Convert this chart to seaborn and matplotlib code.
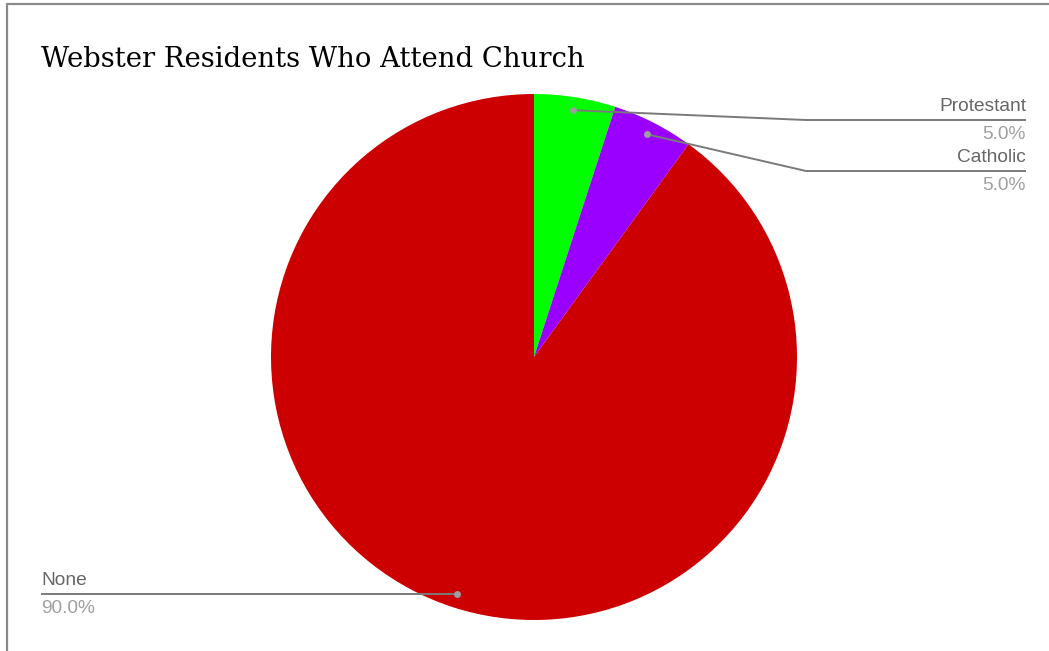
import matplotlib
matplotlib.use("Agg")
import matplotlib.pyplot as plt
import seaborn as sns
import numpy as np

# data
religions = ["Protestant", "Catholic", "None"]
shares = [5.0, 5.0, 90.0]
slice_colors = ["#00ff00", "#9900ff", "#cc0000"]
title = "Webster Residents Who Attend Church"

sns.set_theme(style="white")
plt.rcParams["font.family"] = ["Liberation Sans", "DejaVu Sans"]

W, H = 1049, 651
fig = plt.figure(figsize=(W / 100, H / 100), dpi=100)
ax = fig.add_axes([0, 0, 1, 1])

# pie in pixel-like coordinates (y up)
cx, cy, r = 534, H - 357, 263
wedges, _ = ax.pie(shares, colors=slice_colors, startangle=90, counterclock=False,
                   center=(cx, cy), radius=r, wedgeprops=dict(linewidth=0))
ax.set_xlim(0, W)
ax.set_ylim(0, H)
ax.set_aspect("equal")
ax.axis("off")

# frame on left and top only
ax.plot([7, 7, W + 5], [-5, H - 4, H - 4], color="#8a8a8a", lw=1.6, clip_on=False)

ax.text(41, H - 67, title, fontsize=19.8, family=["DejaVu Serif"],
        color="#000000", ha="left", va="baseline")

# leader lines: (elbow x, line y, end x, side)
callouts = {
    "Protestant": (806, H - 120, 1026, "right"),
    "Catholic": (806, H - 171, 1026, "right"),
    "None": (None, H - 594, 41, "left"),
}
line_col = "#7a7a7a"
for w, name, val in zip(wedges, religions, shares):
    mid = np.deg2rad((w.theta1 + w.theta2) / 2)
    dx, dy = cx + 0.95 * r * np.cos(mid), cy + 0.95 * r * np.sin(mid)
    ex, ly, endx, side = callouts[name]
    if ex is None:
        xs, ys = [dx, endx], [ly, ly]
        dy = ly
    else:
        xs, ys = [dx, ex, endx], [dy, ly, ly]
    ax.plot(xs, ys, color=line_col, lw=1.4, solid_capstyle="butt", zorder=3)
    ax.plot([dx], [dy], "o", color="#9e9e9e", ms=5, mew=0, zorder=4)
    ax.text(endx, ly + 5, name, fontsize=13.8, color="#666666", ha=side, va="bottom")
    ax.text(endx, ly - 6, f"{val:.1f}%", fontsize=13.8, color="#a0a0a0", ha=side, va="top")

fig.savefig("out.png", dpi=100, facecolor="white")
